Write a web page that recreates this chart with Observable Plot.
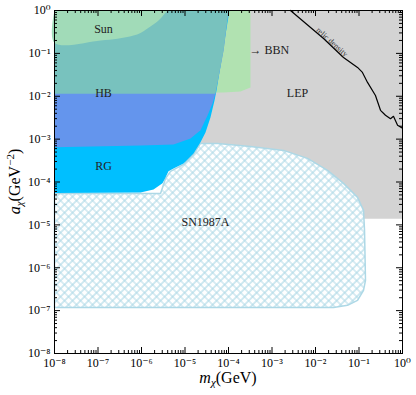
<!DOCTYPE html>
<html><head><meta charset="utf-8">
<script src="https://cdn.jsdelivr.net/npm/d3@7"></script>
<script src="https://cdn.jsdelivr.net/npm/@observablehq/plot@0.6"></script>
<style>body{margin:0;background:#fff}</style>
</head><body><div id="chart"></div>
<script>
// ---- data (mass m in GeV, coupling a in GeV^-2) ----
const decades = [1e-8, 1e-7, 1e-6, 1e-5, 1e-4, 1e-3, 1e-2, 1e-1, 1];
const tickLabels = ["10⁻⁸","10⁻⁷","10⁻⁶","10⁻⁵","10⁻⁴","10⁻³","10⁻²","10⁻¹","10⁰"];

const lepMass = [1e-5, 1, 1, 1e-5];
const lepCoupling = [1.39e-5, 1.39e-5, 1, 1];

const snMass = [1e-8, 2.74e-6, 3.56e-6, 4.65e-6, 9.25e-6, 1.57e-5, 2.27e-5, 5.58e-5, 3.2e-4, 1.84e-3, 6.55e-3, 0.0189, 0.044, 0.0925, 0.127, 0.134, 0.141, 0.127, 0.0925, 0.0545, 0.026, 1e-8, 1e-8];
const snCoupling = [5.42e-5, 5.42e-5, 1.21e-4, 1.77e-4, 2.57e-4, 4.4e-4, 7.94e-4, 7.94e-4, 6.76e-4, 5.46e-4, 3.55e-4, 1.86e-4, 9.3e-5, 4.38e-5, 2.18e-5, 7.4e-6, 5.1e-7, 2.97e-7, 1.74e-7, 1.33e-7, 1.19e-7, 1.19e-7, 5.42e-5];

const bbnMass = [1e-8, 1e-8, 7.7e-5, 1.89e-4, 3.2e-4, 3.2e-4];
const bbnCoupling = [1, 0.0114, 0.0123, 0.0129, 0.016, 1];

const rgMass = [1e-8, 1e-8, 9.5e-7, 1.89e-6, 3.04e-6, 3.56e-6, 4.18e-6, 5.45e-6, 9.25e-6, 1.57e-5, 2.27e-5, 2.96e-5, 3.85e-5, 4.77e-5, 5.3e-5, 1.05e-4];
const rgCoupling = [1, 5.57e-5, 5.7e-5, 6.7e-5, 9.3e-5, 1.28e-4, 1.77e-4, 2.07e-4, 2.71e-4, 4.65e-4, 8.4e-4, 1.43e-3, 3.2e-3, 8.0e-3, 0.0137, 1];

const hbMass = [1e-8, 1e-8, 9.5e-7, 5.45e-6, 1.34e-5, 2.27e-5, 3.29e-5, 4.28e-5, 5.0e-5, 7.7e-5, 1.0e-4];
const hbCoupling = [1, 6.5e-4, 7.1e-4, 7.5e-4, 1.04e-3, 1.6e-3, 3.57e-3, 6.8e-3, 0.0116, 0.117, 1];

const tealMass = [1e-8, 1e-8, 5.0e-5, 7.7e-5, 1.0e-4];
const tealCoupling = [1, 0.0114, 0.0114, 0.117, 1];

const sunMass = [1e-8, 1e-8, 1.14e-7, 2.8e-7, 6.5e-7, 9.5e-7, 1.37e-6, 2.46e-6, 3.96e-6];
const sunCoupling = [1, 0.177, 0.2, 0.219, 0.261, 0.30, 0.38, 0.585, 1];

const relicMass = [2.66e-3, 1.53e-2, 0.044, 0.0925, 0.12, 0.157, 0.239, 0.312, 0.406, 0.53, 0.62, 0.77, 1];
const relicCoupling = [1, 0.222, 0.080, 0.047, 0.036, 0.021, 0.0104, 0.0047, 0.0036, 0.0030, 0.0034, 0.0021, 0.0018];

const labelText = ["Sun", "HB", "RG", "SN1987A", "LEP"];
const labelMass = [1.34e-7, 1.34e-7, 1.34e-7, 2.96e-5, 3.85e-3];
const labelCoupling = [0.36, 0.0117, 2.4e-4, 1.13e-5, 0.0121];

// ---- build ----
const SERIF = "Liberation Serif, DejaVu Serif, serif";
const pts = (ms, as) => ms.map((m, i) => ({m, a: as[i]}));
const labels = labelText.map((t, i) => ({t, m: labelMass[i], a: labelCoupling[i]}));
const allTicks = d3.scaleLog().domain([1e-8, 1]).ticks();
const isMajor = v => Math.abs(Math.log10(v) - Math.round(Math.log10(v))) < 1e-9;
const minors = allTicks.filter(v => !isMajor(v));
const fmt = d => tickLabels[decades.findIndex(v => Math.abs(Math.log10(v) - Math.log10(d)) < 1e-6)];

const W = 416, H = 395, mL = 54, mR = 14, mT = 10, mB = 42;
const iw = W - mL - mR, ih = H - mT - mB;

const patternDefs = () => {
  const defs = d3.create("svg:defs");
  const p = defs.append("pattern").attr("id", "snhatch").attr("patternUnits", "userSpaceOnUse")
    .attr("width", 5.66).attr("height", 5.66).attr("patternTransform", "rotate(45)");
  p.append("rect").attr("width", 5.66).attr("height", 5.66).attr("fill", "white");
  p.append("path").attr("d", "M0,2.83H5.66M2.83,0V5.66").attr("stroke", "#add8e6").attr("stroke-width", 1.1).attr("fill", "none");
  return defs.node();
};

const axisLabels = (index, scales, values, dims) => {
  const g = d3.create("svg:g").attr("font-family", SERIF).attr("fill", "black");
  const cx = (dims.marginLeft + dims.width - dims.marginRight) / 2;
  const t = g.append("text").attr("x", cx).attr("y", dims.height - 12).attr("text-anchor", "middle").attr("font-size", 16);
  t.append("tspan").attr("font-style", "italic").text("m");
  t.append("tspan").attr("font-style", "italic").attr("font-size", 11).attr("dy", 3).text("χ");
  t.append("tspan").attr("dy", -3).text("(GeV)");
  const cy = (dims.marginTop + dims.height - dims.marginBottom) / 2;
  const ty = g.append("text").attr("transform", `translate(20,${cy}) rotate(-90)`).attr("text-anchor", "middle").attr("font-size", 16);
  ty.append("tspan").attr("font-style", "italic").text("a");
  ty.append("tspan").attr("font-style", "italic").attr("font-size", 11).attr("dy", 3).text("χ");
  ty.append("tspan").attr("dy", -3).text("(GeV");
  ty.append("tspan").attr("font-size", 11).attr("dy", -6).text("−2");
  ty.append("tspan").attr("dy", 6).text(")");
  return g.node();
};

const chart = Plot.plot({
  width: W, height: H,
  marginLeft: mL, marginRight: mR, marginTop: mT, marginBottom: mB,
  style: {fontFamily: SERIF, fontSize: "12px", background: "white", color: "black"},
  x: {type: "log", domain: [1e-8, 1]},
  y: {type: "log", domain: [1e-8, 1]},
  marks: [
    patternDefs,
    Plot.line(pts(lepMass, lepCoupling), {x: "m", y: "a", fill: "#d3d3d3", stroke: "none"}),
    Plot.line(pts(snMass, snCoupling), {x: "m", y: "a", fill: "url(#snhatch)", stroke: "#add8e6", strokeWidth: 1.5}),
    Plot.line(pts(bbnMass, bbnCoupling), {x: "m", y: "a", fill: "#b1e2b1", stroke: "none"}),
    Plot.line(pts(rgMass, rgCoupling), {x: "m", y: "a", fill: "#00bfff", stroke: "none"}),
    Plot.line(pts(hbMass, hbCoupling), {x: "m", y: "a", fill: "#6495ed", stroke: "none"}),
    Plot.line(pts(tealMass, tealCoupling), {x: "m", y: "a", fill: "#78c2be", stroke: "none"}),
    Plot.line(pts(sunMass, sunCoupling), {x: "m", y: "a", fill: "#a1dbb8", stroke: "none", curve: "catmull-rom"}),
    Plot.line(pts(relicMass, relicCoupling), {x: "m", y: "a", stroke: "black", strokeWidth: 1.2}),
    Plot.text(labels, {x: "m", y: "a", text: "t", fontSize: 12, fill: "#222"}),
    Plot.text([{t: "→ BBN", m: 3.05e-4, a: 0.117}], {x: "m", y: "a", text: "t", fontSize: 12, textAnchor: "start", fill: "#222"}),
    Plot.text([{t: "relic density", m: 0.0239, a: 0.184}], {x: "m", y: "a", text: "t", fontSize: 8, rotate: 42, fill: "#333"}),
    // inward ticks on all four sides
    Plot.ruleX(decades, {x: d => d, insetTop: ih - 6}),
    Plot.ruleX(decades, {x: d => d, insetBottom: ih - 6}),
    Plot.ruleX(minors, {x: d => d, insetTop: ih - 3}),
    Plot.ruleX(minors, {x: d => d, insetBottom: ih - 3}),
    Plot.ruleY(decades, {y: d => d, insetRight: iw - 6}),
    Plot.ruleY(decades, {y: d => d, insetLeft: iw - 6}),
    Plot.ruleY(minors, {y: d => d, insetRight: iw - 3}),
    Plot.ruleY(minors, {y: d => d, insetLeft: iw - 3}),
    Plot.axisX({ticks: decades, tickSize: 0, tickPadding: 5, tickFormat: fmt, label: null, fontSize: 12}),
    Plot.axisY({ticks: decades, tickSize: 0, tickPadding: 4, tickFormat: fmt, label: null, fontSize: 12}),
    Plot.frame({stroke: "black", strokeWidth: 1}),
    axisLabels
  ]
});
document.getElementById("chart").appendChild(chart);
</script></body></html>
